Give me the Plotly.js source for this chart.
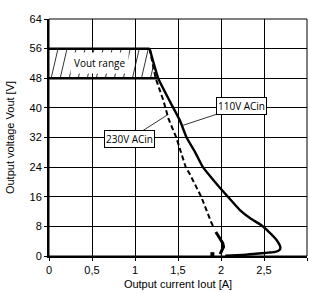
<!DOCTYPE html>
<html><head><meta charset="utf-8">
<script src="https://cdn.plot.ly/plotly-3.0.1.min.js"></script>
<style>html,body{margin:0;padding:0;background:#fff}#chart{width:310px;height:293px}</style>
</head><body><div id="chart"></div>
<script>
// Vout range band (hatched)
const rangeLow = 48;
const rangeHigh = 56;
const rangeTopX = [0, 1.17];
const rangeTopY = [56, 56];
const rangeBotX = [0, 1.26];
const rangeBotY = [48, 48];
// 110V ACin (solid)
const cur110 = [1.17, 1.27, 1.40, 1.52, 1.60, 1.70, 1.79, 1.93, 2.08, 2.22, 2.34, 2.47, 2.58, 2.65, 2.69, 2.68, 2.63, 2.55, 2.40, 2.25, 2.05];
const volt110 = [56, 48, 42, 36.7, 32, 28, 24, 20, 16, 12.4, 10.2, 8.3, 6, 4.2, 2.4, 1.6, 1.1, 0.9, 0.6, 0.3, 0.1];
// 230V ACin (dashed + final solid segment)
const cur230 = [1.17, 1.24, 1.33, 1.39, 1.48, 1.59, 1.64, 1.77, 1.89, 1.92];
const volt230 = [56, 48, 42, 37, 32, 24, 22, 16, 8.9, 7.5];
const cur230Tail = [1.94, 1.98, 2.02, 2.03, 2.01, 1.99];
const volt230Tail = [6.5, 5, 3.5, 2.5, 1.2, 0.5];
const cur230Dot = [1.90];
const volt230Dot = [0.5];
const xTicks = [0, 0.5, 1, 1.5, 2, 2.5, 3];
const yTicks = [0, 8, 16, 24, 32, 40, 48, 56, 64];

// hatch lines inside the band, derived from band edges
const hx = [], hy = [];
const lean = 0.08, step = 0.105;
const xBotR = rangeBotX[1], xTopR = rangeTopX[1];
for (let x0 = -lean; x0 < xBotR; x0 += step) {
  let t0 = Math.max(0, -x0 / lean);
  let t1 = Math.min(1, (xBotR - x0) / (lean + (xBotR - xTopR)));
  if (t1 <= t0) continue;
  hx.push(x0 + lean * t0, x0 + lean * t1, null);
  hy.push(rangeLow + (rangeHigh - rangeLow) * t0, rangeLow + (rangeHigh - rangeLow) * t1, null);
}

const traces = [
  {x: hx, y: hy, mode: 'lines', line: {color: '#000', width: 0.8}, connectgaps: false},
  {x: rangeTopX, y: rangeTopY, mode: 'lines', line: {color: '#000', width: 2.5}},
  {x: rangeBotX, y: rangeBotY, mode: 'lines', line: {color: '#000', width: 2.5}},
  {x: cur110, y: volt110, mode: 'lines', line: {color: '#000', width: 2.4, shape: 'spline', smoothing: 0.5}},
  {x: cur230, y: volt230, mode: 'lines', line: {color: '#000', width: 2, dash: '5px,3px'}},
  {x: cur230Tail, y: volt230Tail, mode: 'lines', line: {color: '#000', width: 3}},
  {x: cur230Dot, y: volt230Dot, mode: 'markers', marker: {symbol: 'square', size: 4, color: '#000'}}
];

const axFont = {family: '"Liberation Sans", Arial, sans-serif', size: 11, color: '#000'};
const lblFont = {family: '"Open Sans", "DejaVu Sans", sans-serif', size: 10, color: '#000'};
const layout = {
  width: 310, height: 293,
  margin: {l: 49, r: 3, t: 19, b: 37},
  paper_bgcolor: '#fff', plot_bgcolor: '#fff',
  showlegend: false,
  separators: ', ',
  font: axFont,
  xaxis: {range: [0, 3], tickvals: xTicks, ticks: 'outside', ticklen: 3, tickwidth: 1, tickcolor: '#000',
    showgrid: true, gridcolor: '#000', gridwidth: 1, showline: true, linecolor: '#000', linewidth: 2,
    zeroline: false, tickfont: axFont, fixedrange: true,
    title: {text: 'Output current Iout [A]', font: axFont, standoff: 5}},
  yaxis: {range: [0, 64], tickvals: yTicks, ticks: 'outside', ticklen: 3, tickwidth: 1, tickcolor: '#000',
    showgrid: true, gridcolor: '#000', gridwidth: 1, showline: true, linecolor: '#000', linewidth: 2,
    zeroline: false, tickfont: axFont, fixedrange: true,
    title: {text: 'Output voltage Vout [V]', font: axFont, standoff: 13}},
  shapes: [{type: 'rect', xref: 'paper', yref: 'paper', x0: 0, x1: 1, y0: 0, y1: 1, line: {color: '#000', width: 1}}],
  annotations: [
    {x: 0.59, y: 52, text: 'Vout range', showarrow: false, bgcolor: '#fff', borderpad: 3, font: lblFont},
    {x: 1.56, y: 35.3, ax: 2.24, ay: 40.5, axref: 'x', ayref: 'y', text: '110V ACin', showarrow: true,
     arrowhead: 0, arrowwidth: 0.8, arrowcolor: '#000', bgcolor: '#fff', bordercolor: '#000', borderwidth: 1, borderpad: 1,
     font: lblFont},
    {x: 1.37, y: 38, ax: 0.94, ay: 31.6, axref: 'x', ayref: 'y', text: '230V ACin', showarrow: true,
     arrowhead: 0, arrowwidth: 0.8, arrowcolor: '#000', bgcolor: '#fff', bordercolor: '#000', borderwidth: 1, borderpad: 1,
     font: lblFont}
  ]
};
Plotly.newPlot('chart', traces, layout, {displayModeBar: false, staticPlot: true});
</script></body></html>
